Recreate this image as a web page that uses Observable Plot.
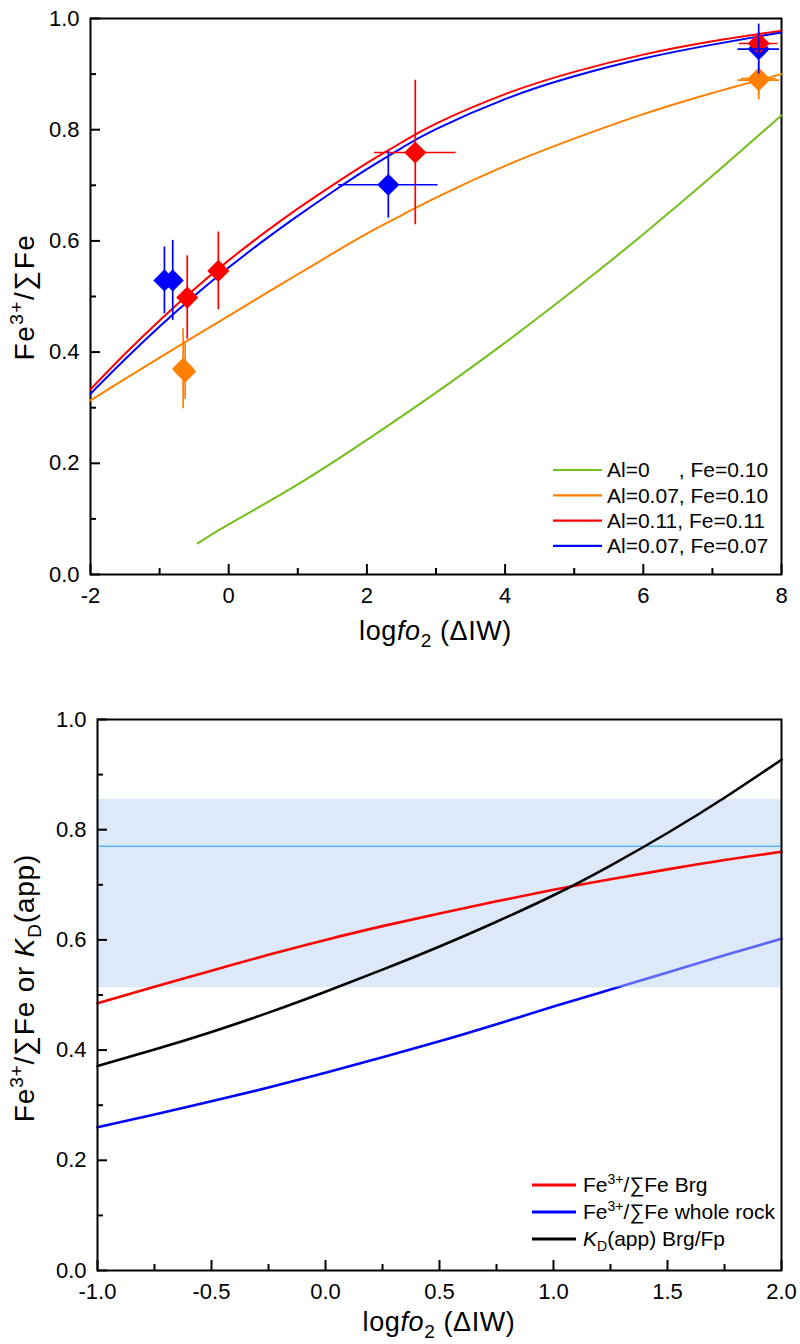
<!DOCTYPE html>
<html><head><meta charset="utf-8">
<script src="https://cdn.jsdelivr.net/npm/d3@7"></script>
<script src="https://cdn.jsdelivr.net/npm/@observablehq/plot@0.6"></script>
<style>
body{margin:0;background:#fff;font-family:"Liberation Sans",Arial,sans-serif;}
.panel{position:relative;width:800px;height:672px;}
svg{display:block;}
</style></head><body>
<div id="top" class="panel"></div>
<div id="bottom" class="panel"></div>
<script>
// ---------- Top chart data ----------
const topXMajor = [-2, 0, 2, 4, 6, 8];
const topXMinor = [-1, 1, 3, 5, 7];
const topYMajor = [0, 0.2, 0.4, 0.6, 0.8, 1.0];
const topYMinor = [0.1, 0.3, 0.5, 0.7, 0.9];

const modelX = [-2, -1.5, -1, -0.5, 0, 0.5, 1, 1.5, 2, 2.5, 3, 4, 5, 6, 7, 8];
const orangeY = [0.313, 0.352, 0.390, 0.428, 0.465, 0.503, 0.540, 0.577, 0.613, 0.646, 0.678, 0.735, 0.784, 0.828, 0.866, 0.900];
const redY    = [0.333, 0.397, 0.457, 0.513, 0.565, 0.613, 0.658, 0.700, 0.740, 0.777, 0.811, 0.864, 0.904, 0.935, 0.959, 0.978];
const blueY   = [0.325, 0.387, 0.446, 0.501, 0.552, 0.600, 0.645, 0.688, 0.729, 0.767, 0.801, 0.855, 0.896, 0.928, 0.953, 0.975];
const greenX  = [-0.45, 0, 1, 2, 3, 4, 5, 6, 7, 8];
const greenY  = [0.056, 0.090, 0.162, 0.242, 0.327, 0.417, 0.512, 0.612, 0.717, 0.826];

const seriesNames  = ["Al=0\u00a0\u00a0\u00a0\u00a0\u00a0, Fe=0.10", "Al=0.07, Fe=0.10", "Al=0.11, Fe=0.11", "Al=0.07, Fe=0.07"];
const seriesColors = ["#74bf1c", "#ff8000", "#ff0000", "#0000ff"];

// measured points
const ptSeries = ["orange", "orange", "blue", "blue", "red", "red", "blue", "red", "orange", "orange", "blue", "red"];
const ptX      = [-0.66, -0.63, -0.93, -0.81, -0.60, -0.15, 2.31, 2.70, 7.67, 7.67, 7.67, 7.67];
const ptY      = [0.370, 0.365, 0.529, 0.529, 0.498, 0.546, 0.701, 0.759, 0.889, 0.892, 0.945, 0.955];
const ptXErr   = [0, 0, 0, 0, 0, 0, 0.72, 0.59, 0.30, 0.25, 0.30, 0.28];
const ptYErr   = [0.072, 0.05, 0.06, 0.072, 0.075, 0.07, 0.06, 0.13, 0.035, 0.03, 0.045, 0.02];

// ---------- Bottom chart data ----------
const botXMajor = [-1, -0.5, 0, 0.5, 1, 1.5, 2];
const botXMinor = [-0.75, -0.25, 0.25, 0.75, 1.25, 1.75];
const botYMajor = [0, 0.2, 0.4, 0.6, 0.8, 1.0];
const botYMinor = [0.1, 0.3, 0.5, 0.7, 0.9];

const botX      = [-1, -0.75, -0.5, -0.25, 0, 0.25, 0.5, 0.75, 1, 1.25, 1.5, 1.75, 2];
const brgY      = [0.485, 0.515, 0.544, 0.573, 0.600, 0.625, 0.648, 0.670, 0.691, 0.710, 0.728, 0.745, 0.760];
const wholeY    = [0.260, 0.283, 0.307, 0.332, 0.359, 0.387, 0.416, 0.447, 0.479, 0.510, 0.541, 0.572, 0.602];
const kdY       = [0.371, 0.401, 0.433, 0.468, 0.506, 0.546, 0.588, 0.633, 0.681, 0.735, 0.794, 0.858, 0.927];
const bandLow   = 0.513;
const bandHigh  = 0.855;
const bandMean  = 0.770;

const botNames  = ["Brg", "whole rock", "Brg/Fp"];
const botColors = ["#ff0000", "#0000ff", "#000000"];

// ---------- helpers ----------
const FONT = "'Liberation Sans', Arial, sans-serif";
const colorOf = {green: seriesColors[0], orange: seriesColors[1], red: seriesColors[2], blue: seriesColors[3]};
const lineData = (xs, ys) => xs.map((x, i) => ({x, y: ys[i]}));
const points = ptX.map((x, i) => ({s: ptSeries[i], x, y: ptY[i], ex: ptXErr[i], ey: ptYErr[i]}));

function axesMarks(xMajor, xMinor, yMajor, yMinor, xFmt, yFmt) {
  return [
    Plot.axisX({ticks: xMajor, tickSize: -10, tickFormat: () => "", label: null, strokeWidth: 2}),
    Plot.axisX({ticks: xMinor, tickSize: -6, tickFormat: () => "", label: null, strokeWidth: 2}),
    Plot.axisX({ticks: xMajor, tickSize: 0, tickPadding: 13, tickFormat: xFmt, label: null}),
    Plot.axisY({ticks: yMajor, tickSize: -10, tickFormat: () => "", label: null, strokeWidth: 2}),
    Plot.axisY({ticks: yMinor, tickSize: -6, tickFormat: () => "", label: null, strokeWidth: 2}),
    Plot.axisY({ticks: yMajor, tickSize: 0, tickPadding: 11, tickFormat: yFmt, label: null}),
    Plot.frame({stroke: "#000", strokeWidth: 2})
  ];
}

// ---------- Top chart ----------
const ptsOf = s => points.filter(d => d.s === s);
const errMarks = s => [
  Plot.ruleX(ptsOf(s), {x: "x", y1: d => d.y - d.ey, y2: d => d.y + d.ey, stroke: colorOf[s], strokeWidth: 1.7}),
  Plot.ruleY(ptsOf(s).filter(d => d.ex > 0), {y: "y", x1: d => d.x - d.ex, x2: d => d.x + d.ex, stroke: colorOf[s], strokeWidth: 1.7})
];
const dotMarks = s => Plot.dot(ptsOf(s), {x: "x", y: "y", symbol: "diamond2", r: 10, fill: colorOf[s], stroke: "none"});

const topPlot = Plot.plot({
  width: 800, height: 672,
  marginTop: 18, marginBottom: 98, marginLeft: 90, marginRight: 19,
  x: {domain: [-2, 8]},
  y: {domain: [0, 1]},
  style: {fontFamily: FONT, fontSize: "22px", color: "#000", background: "white", overflow: "visible"},
  marks: [
    ...axesMarks(topXMajor, topXMinor, topYMajor, topYMinor, d => String(d), d => d.toFixed(1)),
    Plot.line(lineData(greenX, greenY), {x: "x", y: "y", stroke: seriesColors[0], strokeWidth: 2, curve: "natural"}),
    Plot.line(lineData(modelX, orangeY), {x: "x", y: "y", stroke: seriesColors[1], strokeWidth: 2, curve: "natural"}),
    Plot.line(lineData(modelX, redY), {x: "x", y: "y", stroke: seriesColors[2], strokeWidth: 2, curve: "natural"}),
    Plot.line(lineData(modelX, blueY), {x: "x", y: "y", stroke: seriesColors[3], strokeWidth: 2, curve: "natural"}),
    ...errMarks("orange"),
    ...errMarks("red"),
    dotMarks("orange"),
    dotMarks("blue"),
    dotMarks("red"),
    ...errMarks("blue")
  ]
});
document.getElementById("top").appendChild(topPlot);

// ---------- Bottom chart ----------
const botPlot = Plot.plot({
  width: 800, height: 672,
  marginTop: 47, marginBottom: 74, marginLeft: 97, marginRight: 19,
  x: {domain: [-1, 2]},
  y: {domain: [0, 1]},
  style: {fontFamily: FONT, fontSize: "22px", color: "#000", background: "white", overflow: "visible"},
  marks: [
    Plot.line(lineData(botX, wholeY), {x: "x", y: "y", stroke: botColors[1], strokeWidth: 2.6, curve: "natural"}),
    Plot.rect([{lo: bandLow, hi: bandHigh}], {y1: "lo", y2: "hi", fill: "rgb(186,210,243)", fillOpacity: 0.49}),
    Plot.ruleY([bandMean], {stroke: "#5cb5f6", strokeWidth: 1.6}),
    Plot.line(lineData(botX, brgY), {x: "x", y: "y", stroke: botColors[0], strokeWidth: 2.6, curve: "natural"}),
    Plot.line(lineData(botX, kdY), {x: "x", y: "y", stroke: botColors[2], strokeWidth: 2.6, curve: "natural"}),
    ...axesMarks(botXMajor, botXMinor, botYMajor, botYMinor, d => d.toFixed(1), d => d.toFixed(1))
  ]
});
document.getElementById("bottom").appendChild(botPlot);

// ---------- Titles & legends (rich text) ----------
function xTitle(svg, cx, cy) {
  const t = d3.select(svg).append("text")
    .attr("x", cx).attr("y", cy).attr("text-anchor", "middle")
    .attr("font-family", FONT).attr("font-size", 27).attr("letter-spacing", 0.6).attr("fill", "#000");
  t.append("tspan").text("log");
  t.append("tspan").attr("font-style", "italic").text("fo");
  t.append("tspan").attr("font-size", 19).attr("dy", 7).text("2");
  t.append("tspan").attr("dy", -7).text(" (\u0394IW)");
}
function feSum(t, size, supDy) {
  t.append("tspan").text("Fe");
  t.append("tspan").attr("font-size", size * 0.68).attr("dy", -supDy).text("3+");
  t.append("tspan").attr("dy", supDy).text("/\u2211Fe");
}
// top
{
  const svg = topPlot;
  xTitle(svg, 435.5, 640);
  const t = d3.select(svg).append("text")
    .attr("transform", "translate(34,297) rotate(-90)").attr("text-anchor", "middle")
    .attr("font-family", FONT).attr("font-size", 28).attr("letter-spacing", 1.5).attr("fill", "#000");
  feSum(t, 28, 11);
  const lg = d3.select(svg).append("g").attr("font-family", FONT).attr("font-size", 21).attr("text-anchor", "start");
  seriesNames.forEach((name, i) => {
    const y = 470 + i * 25.3;
    lg.append("line").attr("x1", 553).attr("x2", 602).attr("y1", y).attr("y2", y)
      .attr("stroke", seriesColors[i]).attr("stroke-width", 2.2);
    lg.append("text").attr("x", 607).attr("y", y).attr("dy", "0.35em").attr("fill", "#000").text(name);
  });
}
// bottom
{
  const svg = botPlot;
  xTitle(svg, 439, 659);
  const t = d3.select(svg).append("text")
    .attr("transform", "translate(34,316) rotate(-90)").attr("text-anchor", "middle")
    .attr("font-family", FONT).attr("font-size", 28).attr("letter-spacing", 0.8).attr("fill", "#000");
  feSum(t, 28, 11);
  t.append("tspan").text(" or ");
  t.append("tspan").attr("font-style", "italic").text("K");
  t.append("tspan").attr("font-size", 19).attr("dy", 7).text("D");
  t.append("tspan").attr("dy", -7).text("(app)");
  const lg = d3.select(svg).append("g").attr("font-family", FONT).attr("font-size", 21).attr("text-anchor", "start");
  botNames.forEach((name, i) => {
    const y = 513 + i * 27;
    lg.append("line").attr("x1", 532).attr("x2", 576).attr("y1", y).attr("y2", y)
      .attr("stroke", botColors[i]).attr("stroke-width", 3);
    const tx = lg.append("text").attr("x", 583).attr("y", y).attr("dy", "0.35em").attr("fill", "#000");
    if (i < 2) {
      tx.append("tspan").text("Fe");
      tx.append("tspan").attr("font-size", 14).attr("dy", -8).text("3+");
      tx.append("tspan").attr("dy", 8).text("/\u2211Fe " + name);
    } else {
      tx.append("tspan").attr("font-style", "italic").text("K");
      tx.append("tspan").attr("font-size", 14).attr("dy", 5).text("D");
      tx.append("tspan").attr("dy", -5).text("(app) " + name);
    }
  });
}
</script>
</body></html>
